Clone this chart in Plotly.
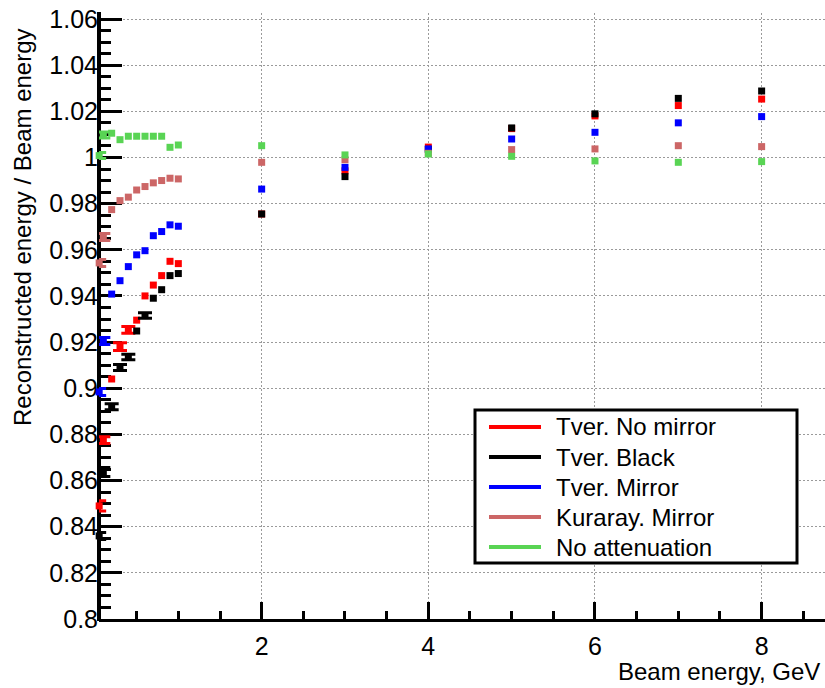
import plotly.graph_objects as go

# Beam energies (GeV)
energy = [0.05, 0.1, 0.2, 0.3, 0.4, 0.5, 0.6, 0.7, 0.8, 0.9, 1.0, 2, 3, 4, 5, 6, 7, 8]

# Reconstructed / beam energy for each configuration, with statistical errors
tver_no_mirror = [0.849, 0.8775, 0.904, 0.918, 0.9253, 0.9295, 0.940, 0.9447, 0.9488, 0.955, 0.954,
                  0.9755, 0.9942, 1.0045, 1.0125, 1.0180, 1.0225, 1.0253]
tver_no_mirror_err = [0.0022, 0.0015, 0, 0.0017, 0.0015, 0, 0, 0, 0, 0, 0, 0, 0, 0, 0, 0, 0, 0]

tver_black = [0.836, 0.8637, 0.892, 0.909, 0.9135, 0.9248, 0.9315, 0.939, 0.9427, 0.9488, 0.9497,
              0.9755, 0.9917, 1.0035, 1.0128, 1.0189, 1.0256, 1.0288]
tver_black_err = [0.0015, 0.0020, 0.0013, 0.0013, 0.0012, 0, 0.0012, 0, 0, 0, 0, 0, 0, 0, 0, 0, 0, 0]

tver_mirror = [0.8984, 0.9205, 0.9408, 0.9466, 0.9527, 0.9578, 0.9596, 0.9661, 0.9679, 0.9708, 0.9702,
               0.9863, 0.9957, 1.0037, 1.0080, 1.0109, 1.0150, 1.0177]
tver_mirror_err = [0.0015, 0.0015, 0, 0, 0, 0, 0, 0, 0, 0, 0, 0, 0, 0, 0, 0, 0, 0]

kuraray_mirror = [0.9543, 0.9655, 0.9774, 0.9813, 0.9828, 0.9859, 0.9874, 0.9890, 0.9900, 0.9910, 0.9907,
                  0.9979, 0.9990, 1.0018, 1.0034, 1.0037, 1.0051, 1.0047]
kuraray_mirror_err = [0.0015, 0.0015, 0, 0, 0, 0, 0, 0, 0, 0, 0, 0, 0, 0, 0, 0, 0, 0]

no_attenuation = [1.0008, 1.0097, 1.0105, 1.0077, 1.0092, 1.0092, 1.0092, 1.0092, 1.0092, 1.0044, 1.0054,
                  1.0051, 1.0011, 1.0015, 1.0005, 0.9985, 0.9979, 0.9982]
no_attenuation_err = [0.0013, 0.0013, 0, 0, 0, 0, 0, 0, 0, 0, 0, 0, 0, 0, 0, 0, 0, 0]

series_names = ["Tver. No mirror", "Tver. Black", "Tver. Mirror", "Kuraray. Mirror", "No attenuation"]
series_values = [tver_no_mirror, tver_black, tver_mirror, kuraray_mirror, no_attenuation]
series_errors = [tver_no_mirror_err, tver_black_err, tver_mirror_err, kuraray_mirror_err, no_attenuation_err]
series_colors = ["#ff0000", "#000000", "#0000ff", "#cc6666", "#59d454"]

y_tick_vals = [0.80, 0.82, 0.84, 0.86, 0.88, 0.90, 0.92, 0.94, 0.96, 0.98, 1.00, 1.02, 1.04, 1.06]
y_tick_text = ["0.8", "0.82", "0.84", "0.86", "0.88", "0.9", "0.92", "0.94", "0.96", "0.98",
               "1", "1.02", "1.04", "1.06"]
x_tick_vals = [2, 4, 6, 8]
x_tick_text = ["2", "4", "6", "8"]

x_title = "Beam energy, GeV"
y_title = "Reconstructed energy / Beam energy"

# Canvas geometry (pixels)
W, H = 825, 688
ML, MR, MT, MB = 99, 0, 13, 69
PW, PH = W - ML - MR, H - MT - MB

# Axis scales: pixels per GeV / per unit of ratio, origin pixel of E = 0
PX_PER_GEV = 83.33
X0_PX = 95.0
PX_PER_UNIT = 2307.7
X_RANGE = [(ML - X0_PX) / PX_PER_GEV, (W - MR - X0_PX) / PX_PER_GEV]
Y_RANGE = [0.8, 0.8 + PH / PX_PER_UNIT]

FONT = "Liberation Sans, Arial, sans-serif"


def px_x(p):
    return (p - ML) / PW


def px_y(p):
    return (H - MB - p) / PH


fig = go.Figure()

for name, vals, errs, col in zip(series_names, series_values, series_errors, series_colors):
    with_err = [i for i, e in enumerate(errs) if e > 0]
    no_err = [i for i, e in enumerate(errs) if e <= 0]
    marker = dict(symbol="square", size=7, color=col, line=dict(width=0))
    fig.add_trace(go.Scatter(
        x=[energy[i] for i in with_err], y=[vals[i] for i in with_err],
        mode="markers", marker=marker, name=name, showlegend=False, cliponaxis=False,
        error_y=dict(type="data", array=[errs[i] for i in with_err], color=col,
                     thickness=3, width=7, visible=True),
    ))
    fig.add_trace(go.Scatter(
        x=[energy[i] for i in no_err], y=[vals[i] for i in no_err],
        mode="markers", marker=marker, name=name, showlegend=False, cliponaxis=False,
    ))

# Left frame line (drawn under the markers, over the grid)
shapes = [dict(type="line", xref="paper", yref="paper",
               x0=px_x(99), x1=px_x(99), y0=px_y(621), y1=px_y(12),
               line=dict(color="black", width=4), layer="between")]

# Legend box with line samples
shapes.append(dict(type="rect", xref="paper", yref="paper",
                   x0=px_x(475), x1=px_x(797), y0=px_y(563), y1=px_y(410),
                   line=dict(color="black", width=3), fillcolor="white", layer="above"))
annotations = []
for k, (name, col) in enumerate(zip(series_names, series_colors)):
    yc = 427 + k * 30
    shapes.append(dict(type="line", xref="paper", yref="paper",
                       x0=px_x(489), x1=px_x(541), y0=px_y(yc), y1=px_y(yc),
                       line=dict(color=col, width=4), layer="above"))
    annotations.append(dict(xref="paper", yref="paper", x=px_x(554), y=px_y(yc),
                            xanchor="left", yanchor="middle", text=name, showarrow=False,
                            font=dict(family=FONT, size=24, color="black")))

annotations.append(dict(xref="paper", yref="paper", x=px_x(821), y=px_y(671),
                        xanchor="right", yanchor="middle", text=x_title, showarrow=False,
                        borderpad=0, font=dict(family=FONT, size=24, color="black")))
annotations.append(dict(xref="paper", yref="paper", x=px_x(22), y=px_y(26),
                        xanchor="center", yanchor="top", text=y_title, showarrow=False,
                        textangle=-90, font=dict(family=FONT, size=24, color="black")))

fig.update_layout(
    width=W, height=H,
    margin=dict(l=ML, r=MR, t=MT, b=MB, pad=0),
    paper_bgcolor="white", plot_bgcolor="white",
    showlegend=False,
    font=dict(family=FONT, size=25, color="black"),
    shapes=shapes, annotations=annotations,
    xaxis=dict(
        range=X_RANGE, tickmode="array", tickvals=x_tick_vals, ticktext=x_tick_text,
        ticks="inside", ticklen=17, tickwidth=3, tickcolor="black", ticklabelstandoff=3,
        showline=True, linewidth=3, linecolor="black", mirror=False, layer="below traces",
        showgrid=True, gridcolor="#9a9a9a", gridwidth=1, griddash="2px,2px",
        zeroline=False, tickfont=dict(family=FONT, size=25, color="black"),
        minor=dict(dtick=0.5, tick0=0, ticks="inside", ticklen=8, tickwidth=3,
                   tickcolor="black", showgrid=False),
    ),
    yaxis=dict(
        range=Y_RANGE, tickmode="array", tickvals=y_tick_vals, ticktext=y_tick_text,
        ticks="inside", ticklen=23, tickwidth=3, tickcolor="black",
        showline=False, layer="below traces",
        showgrid=True, gridcolor="#9a9a9a", gridwidth=1, griddash="2px,2px",
        zeroline=False, tickfont=dict(family=FONT, size=25, color="black"),
        minor=dict(dtick=0.005, tick0=0.8, ticks="inside", ticklen=12, tickwidth=3,
                   tickcolor="black", showgrid=False),
    ),
)

fig.write_html("out.html")
